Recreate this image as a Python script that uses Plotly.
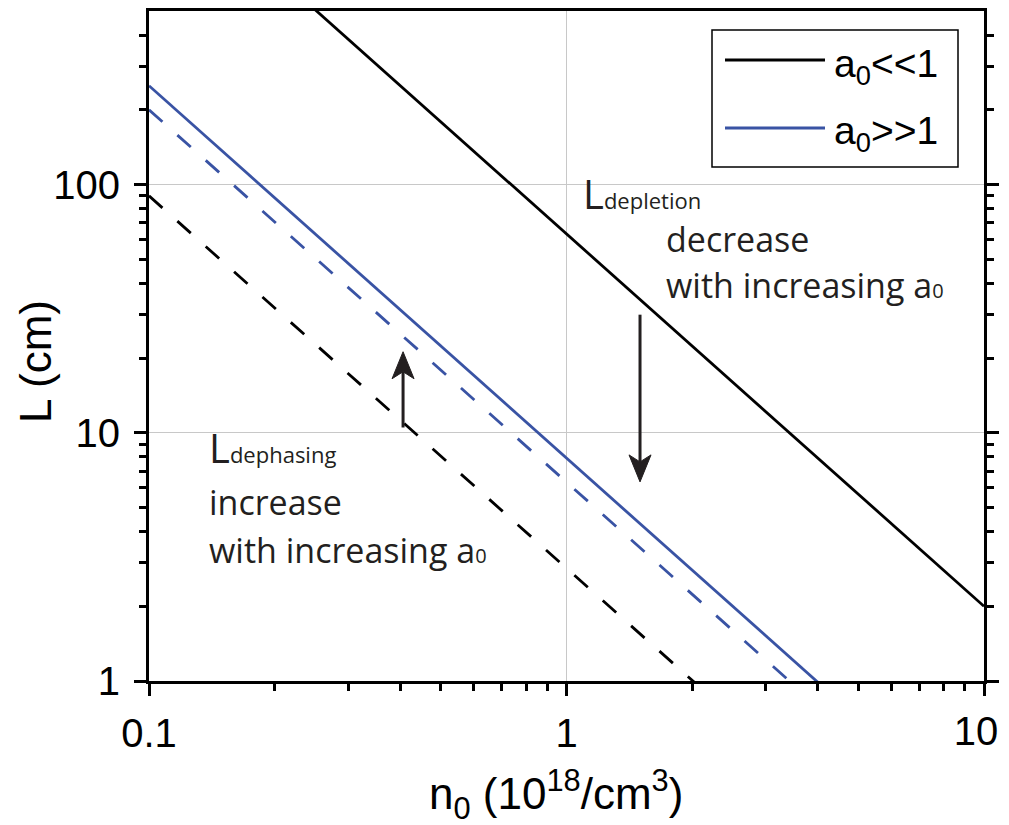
import math
import plotly.graph_objects as go

# ---------------- data ----------------
n_axis = [0.1, 10]                      # n0 (10^18 / cm^3), line endpoints
L_depl_low = [2000, 2]                  # a0<<1, depletion (solid black)
L_depl_high = [250, 0.25]               # a0>>1, depletion (solid blue)
L_deph_high = [200, 0.2]                # a0>>1, dephasing (dashed blue)
L_deph_low = [90, 0.09]                 # a0<<1, dephasing (dashed black)

x_tickvals = [0.1, 1, 10]
x_ticktext = ["0.1", "1", ""]           # "10" drawn on an overlay axis (shifted inward)
x_edge_tickvals = [10]
x_edge_ticktext = ["10"]
y_tickvals = [1, 10, 100]
y_ticktext = ["1", "10", "100"]
x_minor = [0.2, 0.3, 0.4, 0.5, 0.6, 0.7, 0.8, 0.9, 2, 3, 4, 5, 6, 7, 8, 9]
y_minor = [2, 3, 4, 5, 6, 7, 8, 9, 20, 30, 40, 50, 60, 70, 80, 90, 200, 300, 400]

arrow_x = [0.406, 1.5]
arrow_from = [10.5, 29.9]
arrow_to = [21.2, 6.34]

legend_labels = ["a<sub>0</sub>&lt;&lt;1", "a<sub>0</sub>&gt;&gt;1"]

X_RANGE = [-1, 1]
Y_RANGE = [0, math.log10(500)]

BLACK = "#000000"
BLUE = "#3953a4"
ARROW = "#231f20"
LW = 2.8

# ---------------- layout geometry (page pixels) ----------------
FW, FH = 1009, 825
BODY = 8                      # default page body margin
L_, T_, W_, H_ = 149, 11, 835, 670


def px(x):
    return (x - L_) / W_


def py(y):
    return (T_ + H_ - y) / H_


def d2pix(x, y):
    fx = (math.log10(x) - X_RANGE[0]) / (X_RANGE[1] - X_RANGE[0])
    fy = (math.log10(y) - Y_RANGE[0]) / (Y_RANGE[1] - Y_RANGE[0])
    return L_ + fx * W_, T_ + H_ - fy * H_


fig = go.Figure()

fig.add_trace(go.Scatter(x=n_axis, y=L_depl_low, mode="lines",
                         line=dict(color=BLACK, width=LW), showlegend=False))
fig.add_trace(go.Scatter(x=n_axis, y=L_depl_high, mode="lines",
                         line=dict(color=BLUE, width=LW), showlegend=False))
fig.add_trace(go.Scatter(x=n_axis, y=L_deph_high, mode="lines",
                         line=dict(color=BLUE, width=LW, dash="18px,20px"), showlegend=False))
fig.add_trace(go.Scatter(x=n_axis, y=L_deph_low, mode="lines",
                         line=dict(color=BLACK, width=LW, dash="18px,20px"), showlegend=False))
# invisible carrier trace for the overlay x axis
fig.add_trace(go.Scatter(x=n_axis, y=L_deph_low, xaxis="x2", mode="lines",
                         line=dict(color="rgba(0,0,0,0)", width=0), opacity=0,
                         hoverinfo="skip", showlegend=False))

shapes = []
annotations = []

# arrows
for ax_, y0, y1 in zip(arrow_x, arrow_from, arrow_to):
    tx, ty = d2pix(ax_, y1)
    _, sy = d2pix(ax_, y0)
    direction = 1 if y1 > y0 else -1   # 1 = up
    hl, hw, notch = 27, 11, 20
    back = ty + direction * hl
    nch = ty + direction * notch
    shapes.append(dict(type="line", xref="paper", yref="paper",
                       x0=px(tx), y0=py(sy), x1=px(tx), y1=py(nch),
                       line=dict(color=ARROW, width=3)))
    path = (f"M {px(tx)},{py(ty)} L {px(tx - hw)},{py(back)} "
            f"L {px(tx)},{py(nch)} L {px(tx + hw)},{py(back)} Z")
    shapes.append(dict(type="path", xref="paper", yref="paper", path=path,
                       fillcolor=ARROW, line=dict(color=ARROW, width=1)))

# legend (drawn manually)
shapes.append(dict(type="rect", xref="paper", yref="paper",
                   x0=px(712), x1=px(958), y0=py(30), y1=py(167),
                   line=dict(color=BLACK, width=1.5), fillcolor="white", layer="above"))
for i, (lab, col) in enumerate(zip(legend_labels, [BLACK, BLUE])):
    yy = [60, 128][i]
    shapes.append(dict(type="line", xref="paper", yref="paper",
                       x0=px(725), x1=px(825), y0=py(yy), y1=py(yy),
                       line=dict(color=col, width=LW), layer="above"))
    annotations.append(dict(xref="paper", yref="paper", x=px(832), y=py(yy + 6),
                            xanchor="left", yanchor="middle", showarrow=False,
                            text=lab, font=dict(family="Liberation Sans", size=39, color=BLACK)))

AF = "Open Sans"
small = "font-size:22px"
sub0 = "font-size:20px"
text_items = [
    (581, 193, f"L<span style='{small}'>depletion</span>", 40),
    (664, 239, "decrease", 34),
    (664, 285, f"with increasing a<span style='{sub0}'>0</span>", 34),
    (207, 447, f"L<span style='{small}'>dephasing</span>", 40),
    (207, 502, "increase", 34),
    (207, 550, f"with increasing a<span style='{sub0}'>0</span>", 34),
]
for x, y, t, s in text_items:
    annotations.append(dict(xref="paper", yref="paper", x=px(x), y=py(y),
                            xanchor="left", yanchor="middle", showarrow=False,
                            text=t, font=dict(family=AF, size=s, color="#231f20")))

# axis titles
annotations.append(dict(xref="paper", yref="paper", x=px(35), y=py(362),
                        xanchor="center", yanchor="middle", showarrow=False, textangle=-90,
                        text="L (cm)", font=dict(family="Liberation Sans", size=44, color=BLACK)))
annotations.append(dict(xref="paper", yref="paper", x=px(556), y=py(794),
                        xanchor="center", yanchor="middle", showarrow=False,
                        text="n<sub>0</sub> (10<sup>18</sup>/cm<sup>3</sup>)",
                        font=dict(family="Liberation Sans", size=44, color=BLACK)))

TICKFONT = dict(family="Liberation Sans", size=40, color=BLACK)
axis_common = dict(
    type="log", showline=True, linecolor=BLACK, linewidth=3, mirror="ticks",
    ticks="outside", ticklen=12, tickwidth=2.5, tickcolor=BLACK, automargin=False,
    showgrid=True, gridcolor="#c8c8c8", gridwidth=1, zeroline=False,
    tickfont=TICKFONT,
)

fig.update_layout(
    width=FW, height=FH,
    margin=dict(l=L_ - BODY, r=FW - (L_ - BODY) - W_, t=T_ - BODY, b=FH - (T_ - BODY) - H_),
    plot_bgcolor="white", paper_bgcolor="white",
    shapes=shapes, annotations=annotations,
    xaxis=dict(range=X_RANGE, tickvals=x_tickvals, ticktext=x_ticktext,
               minor=dict(tickvals=x_minor, ticks="outside", ticklen=7, tickwidth=2.5,
                          tickcolor=BLACK, showgrid=False),
               ticklabelstandoff=3, **axis_common),
    xaxis2=dict(type="log", range=X_RANGE, overlaying="x", anchor="y", side="bottom",
                tickvals=x_edge_tickvals, ticktext=x_edge_ticktext,
                ticks="outside", ticklen=12, tickwidth=2.5, tickcolor="rgba(0,0,0,0)",
                showline=False, linewidth=3, showgrid=False, zeroline=False,
                automargin=False, tickfont=TICKFONT, ticklabelstandoff=3,
                ticklabelshift=-8, ticklabeloverflow="allow"),
    yaxis=dict(range=Y_RANGE, tickvals=y_tickvals, ticktext=y_ticktext,
               minor=dict(tickvals=y_minor, ticks="outside", ticklen=7, tickwidth=2.5,
                          tickcolor=BLACK, showgrid=False),
               ticklabelstandoff=6, **axis_common),
    showlegend=False,
)

fig.write_html("out.html")
